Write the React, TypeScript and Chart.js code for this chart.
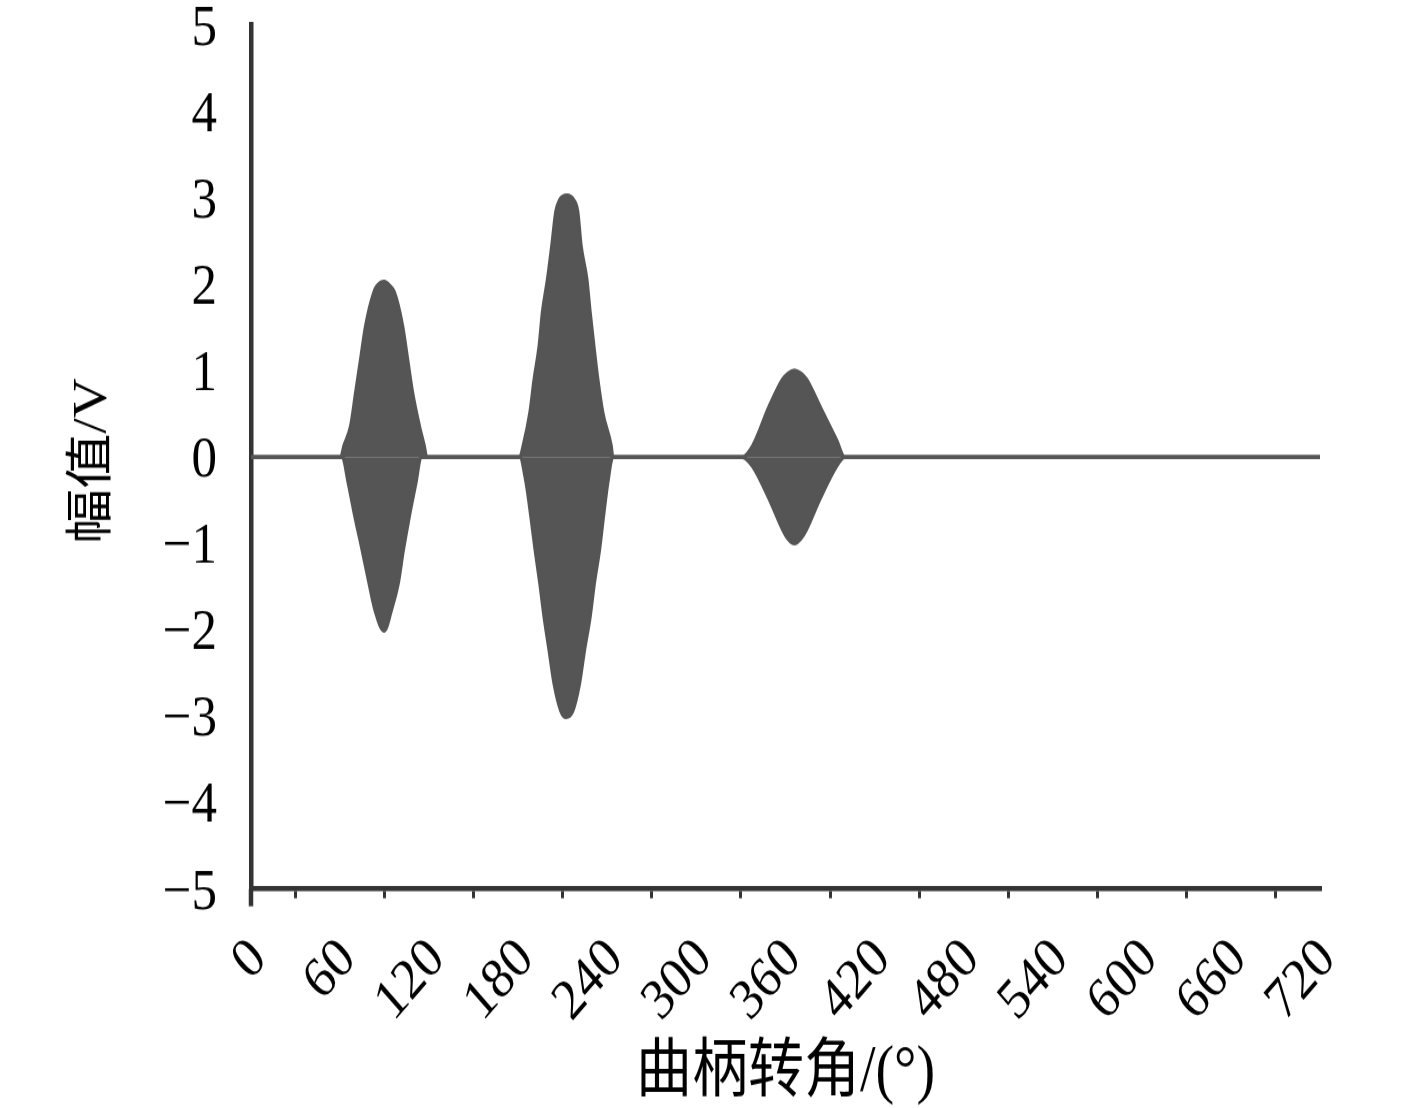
import React, { useEffect, useRef } from "react";
import { Chart, registerables } from "chart.js";

Chart.register(...registerables);

// Crank angle (deg) and upper envelope (V) of the vibration signal
const UPPER_ANGLES = [
  0, 60.5, 62.7, 67.2, 70.6, 73.9, 77.3, 82.9, 85, 89.7, 93.5, 96.4, 102, 105.4, 108.7, 113.3, 116.6, 118.2,
  181.1, 183.4, 187.9, 190.8, 194.2, 196.4, 199.8, 202.7, 205.4, 208.1, 212.8, 217.1, 220, 222.2, 226.1, 228.3, 230.8, 233.5, 236.9, 242.5, 243.6,
  331, 338, 349.2, 358.2, 362, 366, 370, 374, 383, 394.2, 399.8,
  720,
];
const UPPER_VALUES = [
  0, 0, 0.13, 0.36, 0.75, 1.13, 1.52, 1.91, 1.98, 2.03, 1.98, 1.91, 1.52, 1.13, 0.75, 0.36, 0.13, 0,
  0, 0.13, 0.51, 0.9, 1.29, 1.68, 2.06, 2.45, 2.84, 2.98, 3.03, 2.98, 2.84, 2.45, 2.06, 1.68, 1.29, 0.9, 0.51, 0.13, 0,
  0, 0.13, 0.59, 0.9, 0.97, 1.0, 0.97, 0.9, 0.59, 0.2, 0,
  0,
];

// Crank angle (deg) and lower envelope (V)
const LOWER_ANGLES = [
  0, 61.6, 65.6, 70.1, 75.0, 79.6, 83.6, 89.7, 94.5, 99.1, 102.5, 106.5, 111, 114.4, 117.5,
  181.1, 185.4, 188.6, 191.5, 194.6, 197.5, 200.9, 204.3, 208.8, 212.2, 216.6, 221.1, 224.5, 228.3, 231.2, 234.6, 237.3, 240.2, 243.6,
  331, 338, 349.2, 358.2, 362, 366, 370, 374, 383, 394.2, 399.8,
  720,
];
const LOWER_VALUES = [
  0, 0, -0.3, -0.69, -1.08, -1.46, -1.77, -2.01, -1.77, -1.46, -1.08, -0.69, -0.3, 0, 0,
  0, -0.3, -0.69, -1.08, -1.46, -1.85, -2.24, -2.63, -2.94, -3.01, -2.94, -2.63, -2.24, -1.85, -1.46, -1.08, -0.69, -0.3, 0,
  0, -0.11, -0.49, -0.84, -0.95, -1.0, -0.95, -0.84, -0.49, -0.11, 0,
  0,
];

const X_LABEL_VALUES = [0, 60, 120, 180, 240, 300, 360, 420, 480, 540, 600, 660, 720];
const X_TICK_MARKS = [30, 90, 150, 210, 270, 330, 390, 450, 510, 570, 630, 690];
const Y_TICK_VALUES = [-5, -4, -3, -2, -1, 0, 1, 2, 3, 4, 5];

const X_TITLE = "曲柄转角/(°)";
const Y_TITLE = "幅值/V";

const FONT_FAMILY = '"Liberation Serif", "Times New Roman", "Noto Sans CJK SC", serif';
const LINE_COLOR = "#555555";
const AXIS_COLOR = "#333333";

// The reference figure is slightly stretched vertically; reproduce it with a CSS scale.
const PAGE_W = 1417;
const PAGE_H = 1108;
const CANVAS_H = 963;
const STRETCH = PAGE_H / CANVAS_H;

export default function App() {
  const canvasRef = useRef<HTMLCanvasElement | null>(null);

  useEffect(() => {
    const canvas = canvasRef.current;
    if (!canvas) return;

    const upper = UPPER_ANGLES.map((a, i) => ({ x: a, y: UPPER_VALUES[i] }));
    const lower = LOWER_ANGLES.map((a, i) => ({ x: a, y: LOWER_VALUES[i] }));

    const decorPlugin = {
      id: "axisDecor",
      afterDraw(chart: any) {
        const ctx = chart.ctx as CanvasRenderingContext2D;
        const area = chart.chartArea;
        ctx.save();
        // y-axis line running a little below the x axis
        ctx.strokeStyle = AXIS_COLOR;
        ctx.lineWidth = 4.5;
        ctx.beginPath();
        ctx.moveTo(area.left, area.bottom);
        ctx.lineTo(area.left, area.bottom + 15);
        ctx.stroke();
        // axis titles
        ctx.fillStyle = "#000";
        ctx.textAlign = "center";
        ctx.textBaseline = "middle";
        ctx.font = `56px ${FONT_FAMILY}`;
        ctx.fillText(X_TITLE, (area.left + area.right) / 2, 1074 / STRETCH);
        ctx.font = `48px ${FONT_FAMILY}`;
        ctx.translate(93, 461 / STRETCH);
        ctx.rotate(-Math.PI / 2);
        ctx.fillText(Y_TITLE, 0, 0);
        ctx.restore();
      },
    };

    const areaTop = 25 / STRETCH;
    const areaBottom = 889 / STRETCH;

    const chart = new Chart(canvas, {
      type: "line",
      data: {
        datasets: [
          {
            label: "upper",
            data: upper,
            borderColor: LINE_COLOR,
            backgroundColor: LINE_COLOR,
            borderWidth: 3.5,
            pointRadius: 0,
            cubicInterpolationMode: "monotone",
            fill: "origin",
          },
          {
            label: "lower",
            data: lower,
            borderColor: LINE_COLOR,
            backgroundColor: LINE_COLOR,
            borderWidth: 3.5,
            pointRadius: 0,
            cubicInterpolationMode: "monotone",
            fill: "origin",
          },
        ],
      },
      options: {
        animation: false,
        responsive: false,
        devicePixelRatio: 1,
        layout: { padding: { left: 0, top: areaTop, right: 97, bottom: 0 } },
        plugins: {
          legend: { display: false },
          tooltip: { enabled: false },
        },
        scales: {
          x: {
            type: "linear",
            min: 0,
            max: 720,
            afterBuildTicks: (scale: any) => {
              const vals = Array.from(new Set([...X_LABEL_VALUES, ...X_TICK_MARKS])).sort((a, b) => a - b);
              scale.ticks = vals.map((v) => ({ value: v }));
            },
            afterFit: (scale: any) => {
              scale.height = CANVAS_H - areaBottom;
              scale.paddingLeft = 0;
              scale.paddingRight = 0;
            },
            ticks: {
              autoSkip: false,
              minRotation: 45,
              maxRotation: 45,
              padding: 24,
              labelOffset: 8,
              color: "#000",
              font: { family: FONT_FAMILY, size: 50 },
              callback: (v: any) => (X_LABEL_VALUES.includes(Number(v)) ? String(v) : ""),
            },
            grid: {
              drawOnChartArea: false,
              drawTicks: true,
              tickLength: 8,
              lineWidth: 3,
              color: (ctx: any) =>
                ctx.tick && X_TICK_MARKS.includes(ctx.tick.value) ? AXIS_COLOR : "rgba(0,0,0,0)",
            },
            border: { display: true, color: AXIS_COLOR, width: 4.5 },
          },
          y: {
            type: "linear",
            min: -5,
            max: 5,
            afterBuildTicks: (scale: any) => {
              scale.ticks = Y_TICK_VALUES.map((v) => ({ value: v }));
            },
            afterFit: (scale: any) => {
              scale.width = 251;
              scale.paddingTop = 0;
              scale.paddingBottom = 0;
            },
            ticks: {
              padding: 34,
              labelOffset: 3.5,
              color: "#000",
              font: { family: FONT_FAMILY, size: 51 },
              callback: (v: any) => (Number(v) < 0 ? "\u2212" + Math.abs(Number(v)) : String(v)),
            },
            grid: { display: false, drawTicks: false },
            border: { display: true, color: AXIS_COLOR, width: 4.5 },
          },
        },
      },
      plugins: [decorPlugin],
    } as any);

    return () => {
      chart.destroy();
    };
  }, []);

  return (
    <div
      style={{
        position: "absolute",
        left: 0,
        top: 0,
        width: PAGE_W,
        height: PAGE_H,
        background: "#fff",
        overflow: "hidden",
      }}
    >
      <div
        style={{
          width: PAGE_W,
          height: CANVAS_H,
          transform: `scaleY(${STRETCH})`,
          transformOrigin: "0 0",
        }}
      >
        <canvas ref={canvasRef} width={PAGE_W} height={CANVAS_H} style={{ display: "block" }} />
      </div>
    </div>
  );
}
